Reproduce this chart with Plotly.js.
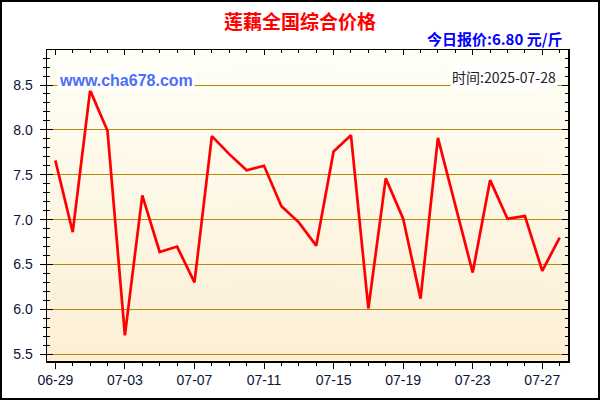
<!DOCTYPE html>
<html>
<head>
<meta charset="utf-8">
<script src="https://cdn.plot.ly/plotly-3.0.1.min.js"></script>
<style>html,body{margin:0;padding:0;background:#fff;}#chart{width:600px;height:400px;}</style>
</head>
<body>
<div id="chart"></div>
<script>
// Data
var dates = ["2025-06-29","2025-06-30","2025-07-01","2025-07-02","2025-07-03","2025-07-04","2025-07-05","2025-07-06","2025-07-07","2025-07-08",
             "2025-07-09","2025-07-10","2025-07-11","2025-07-12","2025-07-13","2025-07-14","2025-07-15","2025-07-16","2025-07-17","2025-07-18",
             "2025-07-19","2025-07-20","2025-07-21","2025-07-22","2025-07-23","2025-07-24","2025-07-25","2025-07-26","2025-07-27","2025-07-28"];
var prices = [7.66,6.86,8.44,7.99,5.71,7.27,6.64,6.70,6.30,7.93,
              7.73,7.55,7.60,7.15,6.97,6.71,7.76,7.94,6.01,7.46,
              7.01,6.12,7.91,7.16,6.41,7.44,7.01,7.04,6.43,6.80];
var titleText = "莲藕全国综合价格";
var priceText = "今日报价:6.80 元/斤";
var siteText = "www.cha678.com";
var timeText = "时间:2025-07-28";

// gradient background image
var cv = document.createElement('canvas');
cv.width = 10; cv.height = 300;
var ctx = cv.getContext('2d');
var g = ctx.createLinearGradient(0,0,0,300);
g.addColorStop(0,'#fffff6');
g.addColorStop(1,'#fcefd5');
ctx.fillStyle = g; ctx.fillRect(0,0,10,300);
var bgURL = cv.toDataURL('image/png');

var xr = ["2025-06-28 12:30","2025-07-28 11:30"];
var yr = [5.425, 8.89];
var tickFont = {family:"Liberation Sans, Arial, sans-serif", size:14, color:"#0a1438"};

var traces = [
  {x:dates, y:prices, type:'scatter', mode:'lines', line:{color:'#ff0000', width:2.7}, hoverinfo:'skip', xaxis:'x', yaxis:'y'},
  {x:[], y:[], type:'scatter', mode:'lines', xaxis:'x2', yaxis:'y2', hoverinfo:'skip', showlegend:false},
  {x:[], y:[], type:'scatter', mode:'lines', xaxis:'x', yaxis:'y3', hoverinfo:'skip', showlegend:false}
];

var layout = {
  width:600, height:400,
  margin:{l:47, r:32, t:50, b:39},
  paper_bgcolor:'#ffffff',
  plot_bgcolor:'rgba(0,0,0,0)',
  showlegend:false,
  title:{text:titleText, font:{family:"Noto Sans CJK SC, sans-serif", size:19, color:'#ff0000', weight:'bold'}, x:0.5, xanchor:'center', y:0.943, yanchor:'middle'},
  xaxis:{type:'date', range:xr, tick0:'2025-06-29', dtick:4*86400000, tickformat:'%m-%d',
         ticks:'outside', ticklen:6, tickcolor:'#000', tickwidth:1,
         minor:{dtick:86400000, ticks:'outside', ticklen:3, tickcolor:'#000', showgrid:false},
         showgrid:false, zeroline:false, showline:true, linecolor:'#000', linewidth:1.5,
         tickfont:tickFont, fixedrange:true},
  xaxis2:{type:'date', range:xr, overlaying:'x', side:'top', tick0:'2025-06-29', dtick:4*86400000,
          ticks:'inside', ticklen:5, tickcolor:'#000', showticklabels:false,
          minor:{dtick:86400000, ticks:'inside', ticklen:3, tickcolor:'#000', showgrid:false},
          showgrid:false, zeroline:false, showline:true, linecolor:'#000', linewidth:1.5, fixedrange:true},
  yaxis:{range:yr, tick0:5.5, dtick:0.5, tickformat:'.1f',
         ticks:'outside', ticklen:6, tickcolor:'#000', ticklabelstandoff:4,
         minor:{dtick:0.1, tick0:5.5, ticks:'outside', ticklen:3, tickcolor:'#000', showgrid:false},
         showgrid:true, gridcolor:'#b8860b', gridwidth:1, zeroline:false,
         showline:true, linecolor:'#000', linewidth:1.5, tickfont:tickFont, fixedrange:true},
  yaxis2:{range:yr, overlaying:'y', side:'right', anchor:'x2', tick0:5.5, dtick:0.5,
          ticks:'inside', ticklen:6, tickcolor:'#000', showticklabels:false,
          minor:{dtick:0.1, tick0:5.5, ticks:'inside', ticklen:3, tickcolor:'#000', showgrid:false},
          showgrid:false, zeroline:false, showline:true, linecolor:'#000', linewidth:1.5, fixedrange:true},
  yaxis3:{range:yr, overlaying:'y', side:'left', anchor:'x', tick0:5.5, dtick:0.5,
          ticks:'inside', ticklen:6, tickcolor:'#000', showticklabels:false,
          minor:{dtick:0.1, tick0:5.5, ticks:'inside', ticklen:3, tickcolor:'#000', showgrid:false},
          showgrid:false, zeroline:false, showline:false, fixedrange:true},
  images:[{source:bgURL, xref:'paper', yref:'paper', x:0, y:1, sizex:1, sizey:1, sizing:'stretch', layer:'below', xanchor:'left', yanchor:'top'}],
  shapes:[{type:'rect', xref:'paper', yref:'paper', x0:(1-47)/521, x1:(599-47)/521, y0:(361-399)/311, y1:(361-1)/311,
           line:{color:'#000', width:2}, fillcolor:'rgba(0,0,0,0)', layer:'above'}],
  annotations:[
    {text:priceText, xref:'paper', yref:'paper', x:(565-47)/521, y:(361-39)/311, xanchor:'right', yanchor:'middle', showarrow:false,
     font:{family:"Noto Sans CJK SC, sans-serif", size:15, color:'#0000ff', weight:'bold'}},
    {text:siteText, xref:'paper', yref:'paper', x:(57-47)/521, y:(361-80.5)/311, xanchor:'left', yanchor:'middle', showarrow:false,
     bgcolor:'#ffffff', borderpad:1,
     font:{family:"Liberation Sans, Arial, sans-serif", size:16, color:'#4d6ef5', weight:'bold'}},
    {text:timeText, xref:'paper', yref:'paper', x:(558-47)/521, y:(361-77)/311, xanchor:'right', yanchor:'middle', showarrow:false,
     bgcolor:'#ffffff', borderpad:1,
     font:{family:"Noto Sans CJK SC, DejaVu Sans, sans-serif", size:14, color:'#222222'}}
  ]
};

Plotly.newPlot('chart', traces, layout, {staticPlot:true, displayModeBar:false});
</script>
</body>
</html>
